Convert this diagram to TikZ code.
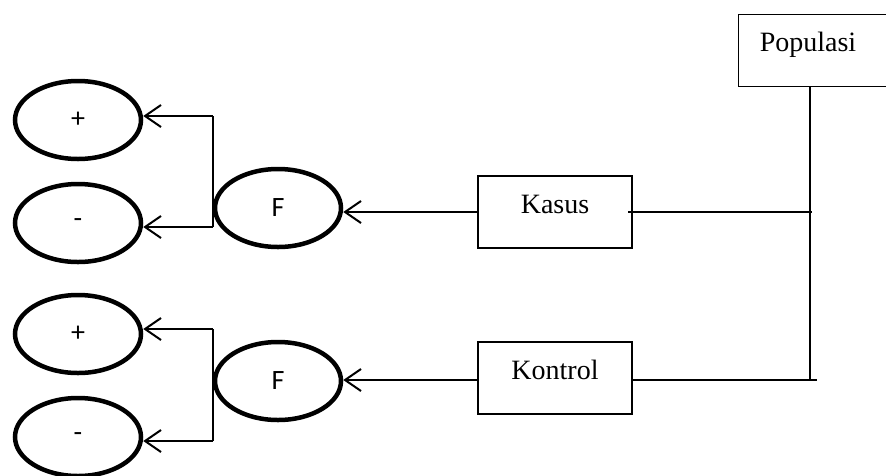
\documentclass[tikz,border=0pt]{standalone}
\usepackage{fontspec}
\setmainfont{Liberation Serif}
\newfontfamily\calib{Carlito}
\usetikzlibrary{shapes.geometric,arrows.meta}
\tikzset{
  oval/.style={draw, ellipse, line width=4.5pt, minimum width=126pt, minimum height=78pt, inner sep=0pt, font=\calib\fontsize{28}{32}\selectfont},
  box/.style={draw, line width=1.3pt, minimum width=154pt, minimum height=72pt, inner sep=0pt},
  lbl/.style={font=\fontsize{28}{32}\selectfont, inner sep=0pt},
  conn/.style={line width=2pt},
  arr/.style={conn, -{Straight Barb[length=16pt, width=22pt, line width=2pt]}}
}
\begin{document}
\begin{tikzpicture}[x=1pt, y=-1pt]
\useasboundingbox (0,0) rectangle (886,475);
% ovals
\node[oval] (p1) at (78,120) {+};
\node[oval] (m1) at (78,223) {-};
\node[oval] (f1) at (278,208) {F};
\node[oval] (p2) at (78,334) {+};
\node[oval] (m2) at (78,437) {-};
\node[oval] (f2) at (278,381) {F};
% boxes
\node[box] (kasus) at (555,212) {};
\node[lbl] at (555,204) {Kasus};
\node[box] (kontrol) at (555,378) {};
\node[lbl] at (555,370) {Kontrol};
\node[draw, line width=1.3pt, minimum width=150pt, minimum height=72pt, inner sep=0pt, anchor=north west] (pop) at (738,14) {};
\node[lbl] at (808,45) {Populasi};
% junction coordinates
\coordinate (a1) at (213,116);
\coordinate (b1) at (213,227);
\coordinate (a2) at (213,329);
\coordinate (b2) at (213,441);
\coordinate (v0) at (810,86);
\coordinate (v1) at (810,380);
\coordinate (k1) at (812,212);
\coordinate (k2) at (817,380);
\coordinate (ks) at (628,212);
% left branches
\draw[conn] (a1) -- (b1);
\draw[arr] (a1) -- (a1 -| p1.east);
\draw[arr] (b1) -- (b1 -| m1.east);
\draw[conn] (a2) -- (b2);
\draw[arr] (a2) -- (a2 -| p2.east);
\draw[arr] (b2) -- (b2 -| m2.east);
% boxes to F
\draw[arr] (kasus.west) -- (kasus.west -| f1.east);
\draw[arr] (kontrol.west |- k2) -- (f2.east |- k2);
% right side
\draw[conn] (v0) -- (v1);
\draw[conn] (ks) -- (k1);
\draw[conn] (kontrol.east |- k2) -- (k2);
\end{tikzpicture}
\end{document}
